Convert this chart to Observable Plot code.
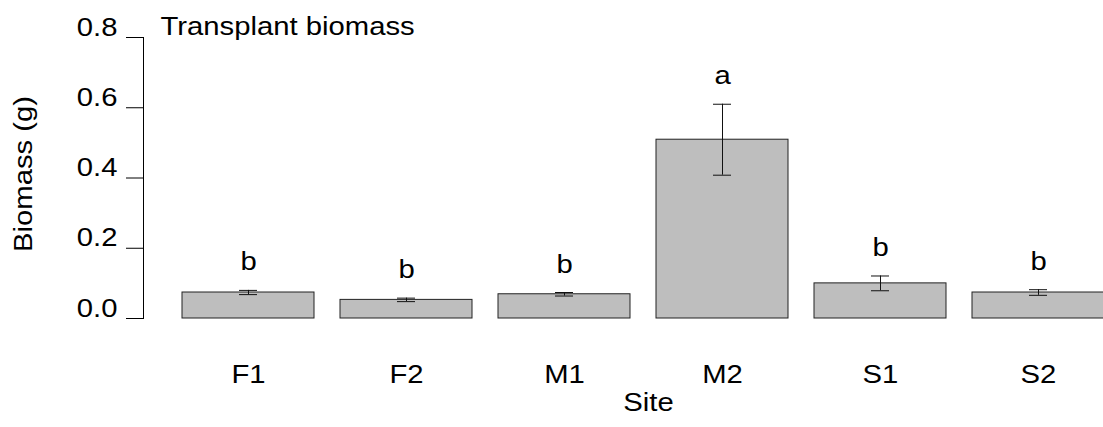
<!DOCTYPE html>
<html>
<head>
<meta charset="utf-8">
<script src="https://cdn.jsdelivr.net/npm/d3@7"></script>
<script src="https://cdn.jsdelivr.net/npm/@observablehq/plot@0.6"></script>
<style>
  html, body { margin: 0; padding: 0; background: #fff; overflow: hidden; }
  #chart svg { display: block; }
</style>
</head>
<body>
<div id="chart"></div>
<script>
const sites = ["F1", "F2", "M1", "M2", "S1", "S2"];
const means = [0.074, 0.053, 0.069, 0.509, 0.100, 0.074];
const ses   = [0.006, 0.005, 0.005, 0.101, 0.021, 0.008];
const letters = ["b", "b", "b", "a", "b", "b"];
const yTicks = [0, 0.2, 0.4, 0.6, 0.8];
const titleText = "Transplant biomass";
const yLabel = "Biomass (g)";
const xLabel = "Site";

const data = sites.map((s, i) => ({
  site: s, mean: means[i], se: ses[i],
  lo: means[i] - ses[i], hi: means[i] + ses[i], letter: letters[i]
}));

const FONT = "'Liberation Sans', Arial, Helvetica, sans-serif";
const FS = 25;
const STRETCH = 1.17;

const chart = Plot.plot({
  width: 1103,
  height: 427,
  marginLeft: 143,
  marginRight: 0,
  marginTop: 37,
  marginBottom: 109,
  style: { fontFamily: FONT, fontSize: FS + "px", color: "#000", background: "#fff" },
  x: { type: "band", domain: sites, range: [153.5, 1133], padding: 1/6 },
  y: { domain: [0, 0.8] },
  marks: [
    Plot.frame({ anchor: "left", stroke: "#000", strokeWidth: 1 }),
    Plot.axisY({ ticks: yTicks, tickSize: 17, tickFormat: () => "", label: null, stroke: "#000" }),
    Plot.axisY({ ticks: yTicks, tickFormat: d3.format(".1f"), tickSize: 0, tickPadding: 26,
                 label: null, fontSize: FS, dy: -10 }),
    Plot.axisX({ tickSize: 0, tickPadding: 47, label: null, fontSize: FS }),
    Plot.barY(data, { x: "site", y: "mean", fill: "#bebebe", stroke: "#222", strokeWidth: 1 }),
    Plot.ruleX(data, { x: "site", y1: "lo", y2: "hi", stroke: "#111", strokeWidth: 1 }),
    Plot.tickY(data, { x: "site", y: "hi", stroke: "#111", strokeWidth: 1, insetLeft: 57, insetRight: 57 }),
    Plot.tickY(data, { x: "site", y: "lo", stroke: "#111", strokeWidth: 1, insetLeft: 57, insetRight: 57 }),
    Plot.text(data, { x: "site", y: "hi", text: "letter", lineAnchor: "bottom", dy: -20, fontSize: FS, fill: "#000" }),
    Plot.text([titleText], { frameAnchor: "top-left", text: d => d, textAnchor: "start", lineAnchor: "bottom",
                             dx: 17, dy: -3, fontSize: FS, fill: "#000" }),
    Plot.text([yLabel], { frameAnchor: "left", text: d => d, rotate: -90, textAnchor: "middle", lineAnchor: "middle",
                          dx: -120, dy: -4, fontSize: FS, fill: "#000" }),
    Plot.text([xLabel], { frameAnchor: "bottom", text: d => d, textAnchor: "middle", lineAnchor: "bottom",
                          dx: 25, dy: 92, fontSize: FS, fill: "#000" })
  ]
});

document.getElementById("chart").appendChild(chart);

// The reference uses a slightly wider sans face: widen glyphs a little while keeping real text.
chart.querySelectorAll("text").forEach(t => {
  const L = t.getComputedTextLength();
  if (L > 0) {
    t.setAttribute("textLength", (L * STRETCH).toFixed(2));
    t.setAttribute("lengthAdjust", "spacingAndGlyphs");
  }
});
</script>
</body>
</html>
